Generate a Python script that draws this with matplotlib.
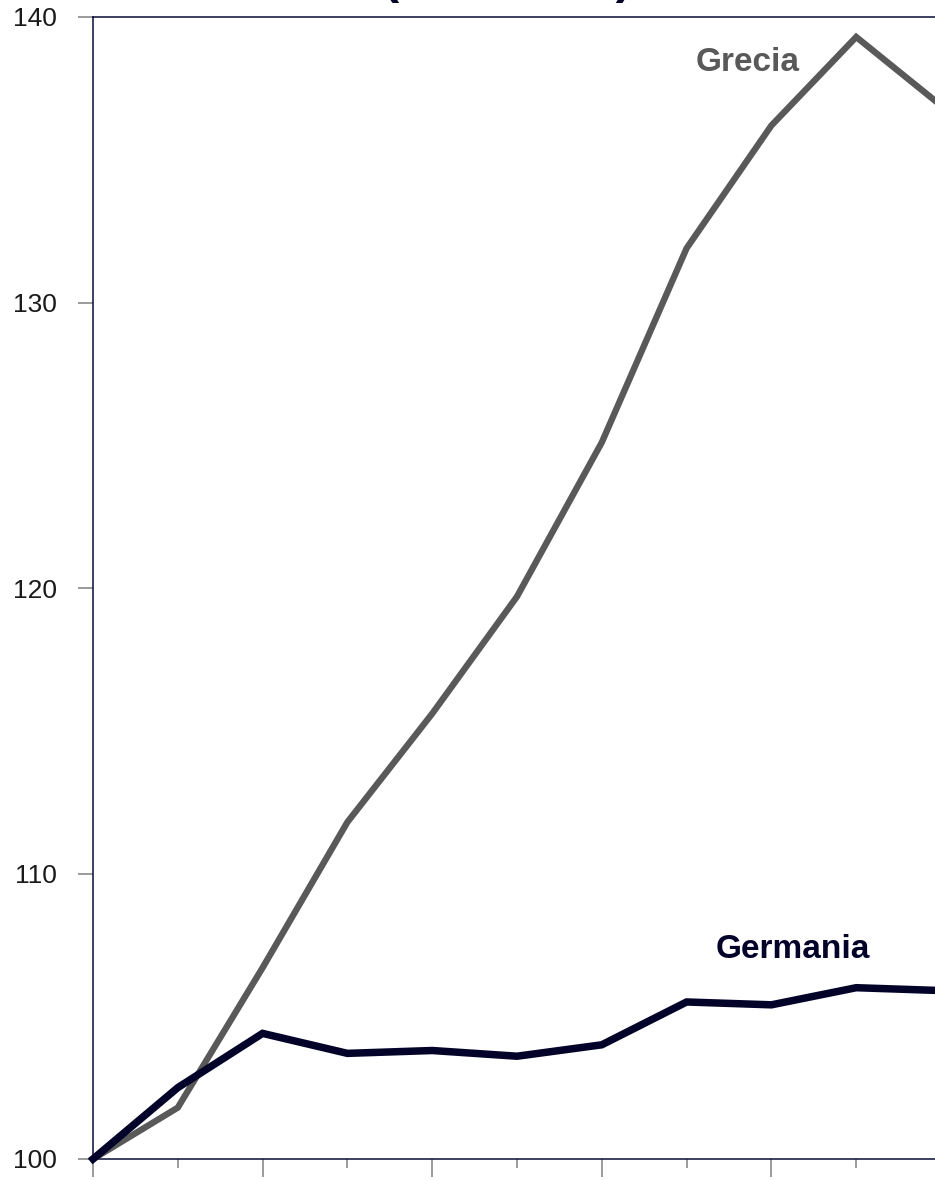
import matplotlib
matplotlib.use("Agg")
import matplotlib.pyplot as plt
from matplotlib.ticker import FixedLocator

plt.rcParams['font.family'] = ['Liberation Sans', 'DejaVu Sans']

years = [2000, 2001, 2002, 2003, 2004, 2005, 2006, 2007, 2008, 2009, 2010]
germania = [100, 102.5, 104.4, 103.7, 103.8, 103.6, 104.0, 105.5, 105.4, 106.0, 105.9]
grecia = [100, 101.8, 106.7, 111.8, 115.6, 119.7, 125.1, 131.9, 136.2, 139.3, 136.9]
y_ticks = [100, 110, 120, 130, 140]

W, H = 935, 1180
fig = plt.figure(figsize=(W / 100, H / 100), dpi=100)
unit = 84.8
left, top, bottom = 93, 17, 1159
ax = fig.add_axes([left / W, (H - bottom) / H, 12 * unit / W, (bottom - top) / H])

x = list(range(len(years)))
ax.plot(x, grecia, color='#595959', lw=4.6, solid_joinstyle='miter', clip_on=False, zorder=3)
ax.plot(x, germania, color='#03032a', lw=5.4, solid_joinstyle='miter', clip_on=False, zorder=4)

ax.set_xlim(0, 12)
ax.set_ylim(100, 140)
ax.set_yticks(y_ticks)
ax.set_yticklabels([str(v) for v in y_ticks])
ax.xaxis.set_major_locator(FixedLocator([i for i in range(0, 13, 2)]))
ax.xaxis.set_minor_locator(FixedLocator([i for i in range(1, 13, 2)]))
ax.set_xticklabels([])

navy = '#0a0a35'
for s in ['left', 'bottom', 'top']:
    ax.spines[s].set_color(navy)
    ax.spines[s].set_linewidth(1.1)
ax.spines['right'].set_visible(False)

ax.tick_params(axis='y', which='major', length=11, width=1.1, color='#808080',
               pad=15, labelsize=19, labelcolor='#1a1a1a', direction='out')
ax.tick_params(axis='x', which='major', length=13, width=1.1, color='#808080', direction='out')
ax.tick_params(axis='x', which='minor', length=6.5, width=1.1, color='#808080', direction='out')

ax.text(7.72, 138.4, 'Grecia', color='#595959', fontsize=24, fontweight='bold',
        ha='center', va='center')
ax.text(8.25, 107.35, 'Germania', color='#03032a', fontsize=24, fontweight='bold',
        ha='center', va='center')

fig.text(508 / W, (H + 7) / H, '(2000=100)', color='#03032a', fontsize=35,
         fontweight='bold', ha='center', va='baseline')

fig.savefig('out.png', dpi=100)
